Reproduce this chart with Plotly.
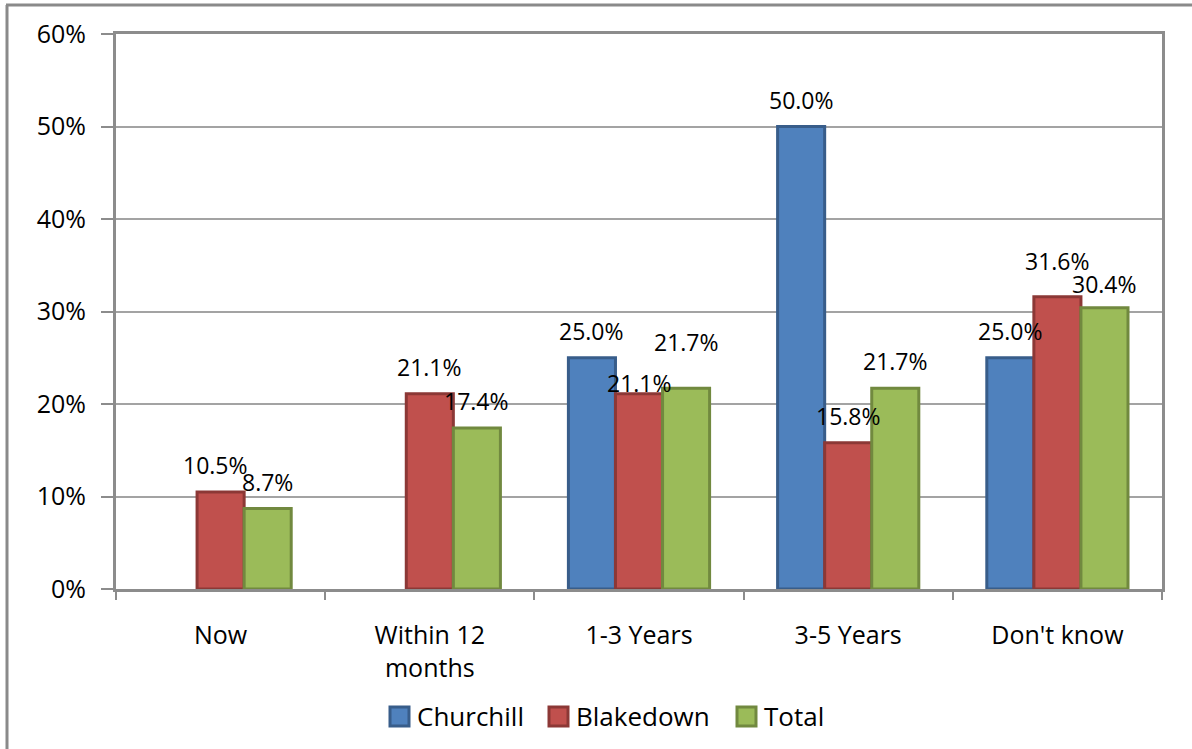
import plotly.graph_objects as go

# Survey responses by area (percent of respondents)
categories = ["Now", "Within 12<br>months", "1-3 Years", "3-5 Years", "Don't know"]
churchill = [None, None, 25.0, 50.0, 25.0]
blakedown = [10.5, 21.1, 21.1, 15.8, 31.6]
total = [8.7, 17.4, 21.7, 21.7, 30.4]
y_ticks = [0, 10, 20, 30, 40, 50, 60]
y_tick_labels = ["0%", "10%", "20%", "30%", "40%", "50%", "60%"]

series = [
    ("Churchill", churchill, "#4F81BD", "#385D8A"),
    ("Blakedown", blakedown, "#C0504D", "#8C3836"),
    ("Total", total, "#9BBB59", "#71893F"),
]

FONT = "Open Sans"
GRID = "#a3a3a3"
AXIS = "#8c8c8c"
BARGAP = 0.325
BAR_W = (1 - BARGAP) / len(series)

# hand-placed label nudges (pixels): (series index, category index) -> (dx, dy)
label_nudge = {(1, 0): (-5, 0), (1, 2): (0, -16), (2, 2): (0, 19),
               (1, 4): (0, 9), (2, 4): (0, -3)}

fig = go.Figure()
annotations = []
for k, (name, vals, fill, edge) in enumerate(series):
    fig.add_trace(go.Bar(
        name=name,
        x=categories,
        y=vals,
        marker=dict(color=fill, line=dict(color=edge, width=3)),
        showlegend=False,
    ))
    offset = (k - (len(series) - 1) / 2) * BAR_W
    for i, v in enumerate(vals):
        if v is None:
            continue
        dx, dy = label_nudge.get((k, i), (0, 0))
        annotations.append(dict(
            x=i + offset, y=v, xref="x", yref="y", text=f"{v:.1f}%",
            showarrow=False, xanchor="center", yanchor="middle",
            xshift=dx, yshift=27 + dy,
            font=dict(family=FONT, size=23, color="black"),
        ))

# plot area in pixels: x 116..1162, y 34..589
L, R, T, B = 116, 1192 - 1162, 34, 749 - 589
W, H = 1192 - L - R, 749 - T - B

def px(x):
    return (x - L) / W

def py(y):
    return (749 - B - y) / H

# legend: swatch box + name for each series
legend_x = [390, 549, 737]
shapes = []
for (name, _, fill, edge), lx in zip(series, legend_x):
    shapes.append(dict(type="rect", xref="paper", yref="paper",
                       x0=px(lx), x1=px(lx + 19), y0=py(707), y1=py(726),
                       fillcolor=fill, line=dict(color=edge, width=3)))
    annotations.append(dict(x=px(lx + 25), y=py(716), xref="paper", yref="paper",
                            text=name, showarrow=False, xanchor="left", yanchor="middle",
                            font=dict(family=FONT, size=26, color="black")))

# outer chart frame
shapes += [
    dict(type="line", xref="paper", yref="paper", x0=px(6), x1=px(1192), y0=py(5), y1=py(5),
         line=dict(color="#8a8a8a", width=3)),
    dict(type="line", xref="paper", yref="paper", x0=px(7), x1=px(7), y0=py(5), y1=py(749),
         line=dict(color="#8a8a8a", width=3)),
]

fig.update_layout(
    width=1192, height=749,
    margin=dict(l=L, r=R, t=T, b=B),
    paper_bgcolor="white", plot_bgcolor="white",
    barmode="group", bargap=BARGAP, bargroupgap=0,
    font=dict(family=FONT, size=25, color="black"),
    showlegend=False,
    xaxis=dict(
        tickson="boundaries", ticks="outside", ticklen=8, tickwidth=2, tickcolor=AXIS,
        showline=True, linecolor=AXIS, linewidth=3, mirror=True,
        showgrid=False, tickfont=dict(family=FONT, size=25),
        ticklabelstandoff=22, range=[-0.5, 4.5],
    ),
    yaxis=dict(
        range=[0, 60], tickvals=y_ticks, ticktext=y_tick_labels,
        ticks="outside", ticklen=12, tickwidth=2, tickcolor=AXIS,
        showline=True, linecolor=AXIS, linewidth=3, mirror=True,
        showgrid=True, gridcolor=GRID, gridwidth=2, zeroline=False,
        tickfont=dict(family=FONT, size=25), ticklabelstandoff=10,
    ),
    shapes=shapes,
    annotations=annotations,
)

fig.write_html("out.html")
